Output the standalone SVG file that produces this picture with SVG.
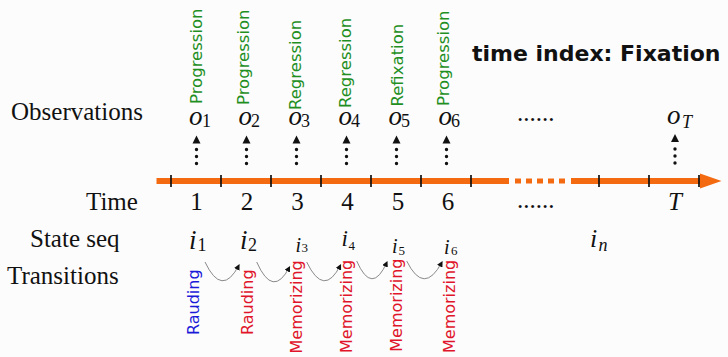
<svg xmlns="http://www.w3.org/2000/svg" width="728" height="357" viewBox="0 0 728 357">
<style>
.lbl{font-family:"Liberation Serif","Times New Roman",serif;font-size:25px;fill:#111}
.num{font-family:"Liberation Serif","Times New Roman",serif;font-size:25px;fill:#111;text-anchor:middle}
.it{font-family:"Liberation Serif","Times New Roman",serif;font-style:italic;fill:#111}
.sub{font-family:"Liberation Serif","Times New Roman",serif;fill:#111}
.obs{font-family:"DejaVu Sans",sans-serif;font-size:16.5px;fill:#1f8f1f}
.red{font-family:"DejaVu Sans",sans-serif;font-size:16px;fill:#e0142a}
.blue{font-family:"DejaVu Sans",sans-serif;font-size:16px;fill:#1a1ad8}
.title{font-family:"DejaVu Sans",sans-serif;font-size:22px;font-weight:bold;fill:#111}
.tick{stroke:#111;stroke-width:1.7}
.dots{stroke:#111;stroke-width:3.4;stroke-linecap:round;stroke-dasharray:0 7;fill:none}
.arc{stroke:#8a8a8a;stroke-width:1;fill:none;marker-end:url(#ah)}
</style>
<defs>
<marker id="ah" viewBox="0 0 10 10" refX="8" refY="5" markerWidth="6" markerHeight="6" markerUnits="userSpaceOnUse" orient="auto">
<path d="M0,0 L10,5 L0,10 z" fill="#111"/>
</marker>
<path id="oh" d="M-4,8 L4,8 L0,0 z" fill="#111"/>
</defs>
<rect width="728" height="357" fill="#fcfcfc"/>

<g id="row-labels">
<text class="lbl" x="11" y="120">Observations</text>
<text class="lbl" x="86" y="210">Time</text>
<text class="lbl" x="30" y="247">State seq</text>
<text class="lbl" x="7" y="284">Transitions</text>
</g>

<g id="title"><text class="title" x="472" y="61">time index: Fixation</text></g>

<g id="timeline">
<line x1="156.5" y1="181" x2="509" y2="181" stroke="#f36a10" stroke-width="6"/>
<g fill="#f36a10">
<rect x="515" y="178.5" width="6" height="5"/>
<rect x="526" y="178.5" width="6" height="5"/>
<rect x="537" y="178.5" width="6" height="5"/>
<rect x="548" y="178.5" width="6" height="5"/>
<rect x="559" y="178.5" width="6" height="5"/>
</g>
<line x1="571" y1="181" x2="703" y2="181" stroke="#f36a10" stroke-width="6"/>
<path d="M700,173.5 L721.5,181 L700,188.5 z" fill="#f36a10"/>
<g class="tick">
<line x1="171" y1="175" x2="171" y2="187"/>
<line x1="221" y1="175" x2="221" y2="187"/>
<line x1="271" y1="175" x2="271" y2="187"/>
<line x1="321" y1="175" x2="321" y2="187"/>
<line x1="371" y1="175" x2="371" y2="187"/>
<line x1="421" y1="175" x2="421" y2="187"/>
<line x1="471" y1="175" x2="471" y2="187"/>
<line x1="599" y1="175" x2="599" y2="187"/>
<line x1="649" y1="175" x2="649" y2="187"/>
<line x1="699" y1="175" x2="699" y2="187"/>
</g>
<text class="num" x="196.5" y="210">1</text>
<text class="num" x="247" y="210">2</text>
<text class="num" x="297.5" y="210">3</text>
<text class="num" x="347.5" y="210">4</text>
<text class="num" x="398" y="210">5</text>
<text class="num" x="448" y="210">6</text>
<text class="lbl" x="517" y="208">......</text>
<text class="it" x="675" y="210" font-size="25" text-anchor="middle">T</text>
</g>

<g id="observations">
<g id="o1"><text class="it" x="189" y="125" font-size="27">o</text><text class="sub" x="202" y="127" font-size="18">1</text>
<text class="obs" transform="translate(201.5,104) rotate(-90)">Progression</text></g>
<g id="o2"><text class="it" x="238.5" y="125" font-size="27">o</text><text class="sub" x="251" y="127" font-size="18">2</text>
<text class="obs" transform="translate(249.3,105) rotate(-90)">Progression</text></g>
<g id="o3"><text class="it" x="288.5" y="125" font-size="27">o</text><text class="sub" x="301" y="127" font-size="18">3</text>
<text class="obs" transform="translate(300.5,110) rotate(-90)">Regression</text></g>
<g id="o4"><text class="it" x="338.5" y="125" font-size="27">o</text><text class="sub" x="351" y="127" font-size="18">4</text>
<text class="obs" transform="translate(351,108) rotate(-90)">Regression</text></g>
<g id="o5"><text class="it" x="388.5" y="125" font-size="27">o</text><text class="sub" x="401" y="127" font-size="18">5</text>
<text class="obs" transform="translate(402.7,106.5) rotate(-90)">Refixation</text></g>
<g id="o6"><text class="it" x="438.5" y="125" font-size="27">o</text><text class="sub" x="451" y="127" font-size="18">6</text>
<text class="obs" transform="translate(449.3,106) rotate(-90)">Progression</text></g>
<g id="oT"><text class="it" x="667" y="124" font-size="27">o</text><text class="it" x="682" y="128" font-size="18">T</text></g>
<text class="lbl" x="517" y="121">......</text>
</g>

<g id="states">
<g id="i1"><text class="it" x="189" y="249" font-size="27">i</text><text class="sub" x="197.5" y="251" font-size="18">1</text></g>
<g id="i2"><text class="it" x="240" y="249" font-size="27">i</text><text class="sub" x="248" y="251" font-size="18">2</text></g>
<g id="i3"><text class="it" x="295.5" y="252" font-size="20">i</text><text class="sub" x="301.5" y="252" font-size="13">3</text></g>
<g id="i4"><text class="it" x="341.5" y="246" font-size="23">i</text><text class="sub" x="348.5" y="250" font-size="13">4</text></g>
<g id="i5"><text class="it" x="392" y="253" font-size="20">i</text><text class="sub" x="398.5" y="255" font-size="13">5</text></g>
<g id="i6"><text class="it" x="444" y="254" font-size="20">i</text><text class="sub" x="451" y="255" font-size="13">6</text></g>
<g id="in"><text class="it" x="590" y="247" font-size="26">i</text><text class="it" x="598.5" y="251" font-size="18">n</text></g>
</g>

<g id="transition-labels">
<text class="blue" transform="translate(198.7,335) rotate(-90)">Rauding</text>
<text class="red" transform="translate(252.8,335) rotate(-90)">Rauding</text>
<text class="red" transform="translate(301.5,353.5) rotate(-90)">Memorizing</text>
<text class="red" transform="translate(352.3,353) rotate(-90)">Memorizing</text>
<text class="red" transform="translate(402.2,351.7) rotate(-90)">Memorizing</text>
<text class="red" transform="translate(454.5,353) rotate(-90)">Memorizing</text>
</g>

<g id="connectors">
<g id="obs-arrows">
<use href="#oh" x="196.5" y="135.5"/><line class="dots" x1="196.5" y1="163.5" x2="196.5" y2="149"/>
<use href="#oh" x="246.5" y="135.5"/><line class="dots" x1="246.5" y1="163.5" x2="246.5" y2="149"/>
<use href="#oh" x="296.5" y="135.5"/><line class="dots" x1="296.5" y1="163.5" x2="296.5" y2="149"/>
<use href="#oh" x="346.5" y="135.5"/><line class="dots" x1="346.5" y1="163.5" x2="346.5" y2="149"/>
<use href="#oh" x="396.5" y="135.5"/><line class="dots" x1="396.5" y1="163.5" x2="396.5" y2="149"/>
<use href="#oh" x="446.5" y="135.5"/><line class="dots" x1="446.5" y1="163.5" x2="446.5" y2="149"/>
<use href="#oh" x="675" y="134"/><line class="dots" x1="675" y1="163" x2="675" y2="148.5"/>
</g>
<g id="transition-arcs">
<path class="arc" d="M205,262 Q222,298 239,265"/>
<path class="arc" d="M256.7,262 Q273,299 289.5,267"/>
<path class="arc" d="M306.7,262 Q324,298 340.5,265"/>
<path class="arc" d="M356.7,261 Q372,296 387,262"/>
<path class="arc" d="M406.7,261 Q424,296 442,262"/>
</g>
</g>
</svg>
